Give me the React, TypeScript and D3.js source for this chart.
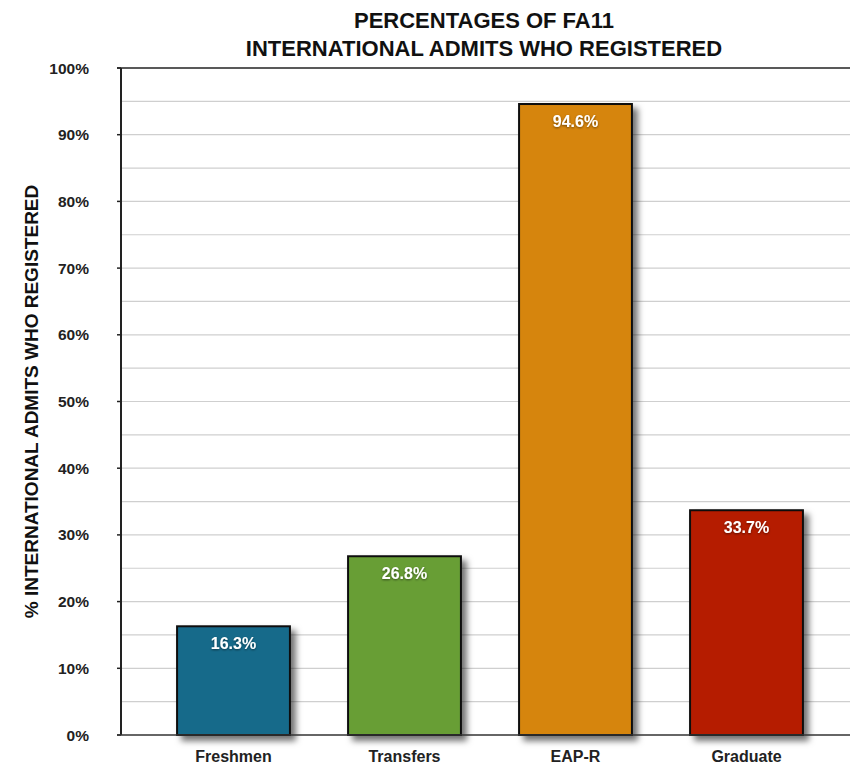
import React, { useEffect, useRef } from 'react';
import * as d3 from 'd3';

const categories = ['Freshmen', 'Transfers', 'EAP-R', 'Graduate'];
const values = [16.3, 26.8, 94.6, 33.7];
const barColors = ['#156a8a', '#679e35', '#d68510', '#b51b00'];
const tickValues = [0, 10, 20, 30, 40, 50, 60, 70, 80, 90, 100];
const gridValues = d3.range(5, 100, 5);
const titleLines = ['PERCENTAGES OF FA11', 'INTERNATIONAL ADMITS WHO REGISTERED'];
const yAxisTitle = '% INTERNATIONAL ADMITS WHO REGISTERED';

const FONT = '"Liberation Sans", Arial, Helvetica, sans-serif';

const App: React.FC = () => {
  const svgRef = useRef<SVGSVGElement>(null);

  useEffect(() => {
    if (!svgRef.current) return;
    const width = 850;
    const height = 767;
    const svg = d3.select(svgRef.current);
    svg.selectAll('*').remove();
    svg.attr('width', width).attr('height', height);

    const left = 121;
    const right = 850;
    const top = 68;
    const bottom = 735;

    const y = d3.scaleLinear().domain([0, 100]).range([bottom, top]);
    const x = d3
      .scaleBand<string>()
      .domain(categories)
      .range([148, 832])
      .paddingInner(0.34)
      .paddingOuter(0.17);

    const defs = svg.append('defs');
    const shadow = defs
      .append('filter')
      .attr('id', 'barShadow')
      .attr('x', '-20%')
      .attr('y', '-20%')
      .attr('width', '150%')
      .attr('height', '150%');
    shadow
      .append('feDropShadow')
      .attr('dx', 5)
      .attr('dy', 5)
      .attr('stdDeviation', 3)
      .attr('flood-color', '#000')
      .attr('flood-opacity', 0.55);

    const textShadow = defs.append('filter').attr('id', 'textShadow');
    textShadow
      .append('feDropShadow')
      .attr('dx', 0)
      .attr('dy', 1)
      .attr('stdDeviation', 1)
      .attr('flood-color', '#000')
      .attr('flood-opacity', 0.5);

    // grid lines
    svg
      .append('g')
      .selectAll('line')
      .data(gridValues)
      .enter()
      .append('line')
      .attr('x1', left)
      .attr('x2', right)
      .attr('y1', (d) => y(d))
      .attr('y2', (d) => y(d))
      .attr('stroke', '#cfcfcf')
      .attr('stroke-width', 1.2);

    // top line
    svg
      .append('line')
      .attr('x1', left - 4)
      .attr('x2', right)
      .attr('y1', y(100))
      .attr('y2', y(100))
      .attr('stroke', '#222')
      .attr('stroke-width', 1.5);

    // y ticks and labels
    const ticks = svg.append('g');
    ticks
      .selectAll('line')
      .data(tickValues)
      .enter()
      .append('line')
      .attr('x1', left - 4)
      .attr('x2', left)
      .attr('y1', (d) => y(d))
      .attr('y2', (d) => y(d))
      .attr('stroke', '#222')
      .attr('stroke-width', 1.5);
    ticks
      .selectAll('text')
      .data(tickValues)
      .enter()
      .append('text')
      .attr('x', 89)
      .attr('y', (d) => y(d) + 5.5)
      .attr('text-anchor', 'end')
      .attr('font-family', FONT)
      .attr('font-weight', 700)
      .attr('font-size', '15.5px')
      .attr('fill', '#222')
      .text((d) => `${d}%`);

    // bars
    const bars = svg.append('g');
    bars
      .selectAll('rect')
      .data(values)
      .enter()
      .append('rect')
      .attr('x', (d, i) => x(categories[i])!)
      .attr('y', (d) => y(d))
      .attr('width', x.bandwidth())
      .attr('height', (d) => bottom - y(d))
      .attr('fill', (d, i) => barColors[i])
      .attr('stroke', '#111')
      .attr('stroke-width', 2)
      .attr('filter', 'url(#barShadow)');

    bars
      .selectAll('text')
      .data(values)
      .enter()
      .append('text')
      .attr('x', (d, i) => x(categories[i])! + x.bandwidth() / 2)
      .attr('y', (d) => y(d) + 23)
      .attr('text-anchor', 'middle')
      .attr('font-family', FONT)
      .attr('font-weight', 700)
      .attr('font-size', '16px')
      .attr('fill', '#fff')
      .attr('filter', 'url(#textShadow)')
      .text((d) => `${d.toFixed(1)}%`);

    // axes lines
    svg
      .append('line')
      .attr('x1', left)
      .attr('x2', left)
      .attr('y1', top)
      .attr('y2', bottom)
      .attr('stroke', '#222')
      .attr('stroke-width', 2);
    svg
      .append('line')
      .attr('x1', left - 4)
      .attr('x2', right)
      .attr('y1', bottom)
      .attr('y2', bottom)
      .attr('stroke', '#333')
      .attr('stroke-width', 1.5);

    // x labels
    svg
      .append('g')
      .selectAll('text')
      .data(categories)
      .enter()
      .append('text')
      .attr('x', (d) => x(d)! + x.bandwidth() / 2)
      .attr('y', 762)
      .attr('text-anchor', 'middle')
      .attr('font-family', FONT)
      .attr('font-weight', 700)
      .attr('font-size', '16px')
      .attr('fill', '#222')
      .text((d) => d);

    // title
    svg
      .append('g')
      .selectAll('text')
      .data(titleLines)
      .enter()
      .append('text')
      .attr('x', 484)
      .attr('y', (d, i) => 28 + i * 28)
      .attr('text-anchor', 'middle')
      .attr('font-family', FONT)
      .attr('font-weight', 700)
      .attr('font-size', '22px')
      .attr('fill', '#111')
      .text((d) => d);

    // y axis title
    svg
      .append('text')
      .attr('transform', `translate(38, ${(top + bottom) / 2}) rotate(-90)`)
      .attr('text-anchor', 'middle')
      .attr('font-family', FONT)
      .attr('font-weight', 700)
      .attr('font-size', '19px')
      .attr('fill', '#111')
      .text(yAxisTitle);
  }, []);

  return (
    <div>
      <style>{`body { margin: 0; background: #fff; }`}</style>
      <svg ref={svgRef} style={{ display: 'block' }} />
    </div>
  );
};

export default App;
